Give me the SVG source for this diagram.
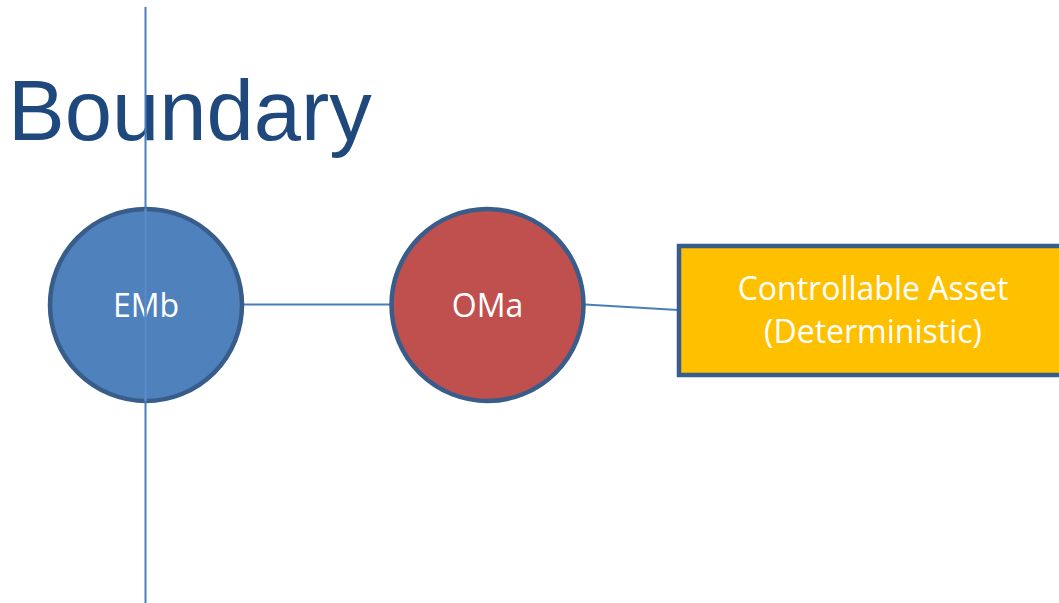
<svg xmlns="http://www.w3.org/2000/svg" width="1059" height="603" viewBox="0 0 1059 603">
<style>
.node{stroke:#385d8a;stroke-width:4.5}
.lbl{font-family:"Open Sans","Noto Sans",sans-serif;font-size:32px;fill:#ffffff;text-anchor:middle}
.conn{stroke:#4a7ebb;stroke-width:1.8;fill:none}
</style>
<rect width="1059" height="603" fill="#ffffff"/>
<text id="title" x="8" y="140" font-family="'Liberation Sans',Arial,sans-serif" font-size="85" fill="#1f497d">Boundary</text>
<g id="connectors">
<line class="conn" x1="243" y1="304.5" x2="390" y2="304.5"/>
<line class="conn" x1="585" y1="304.5" x2="678" y2="310"/>
</g>
<g id="EMb">
<circle class="node" cx="146" cy="305" r="96" fill="#4f81bd"/>
<text class="lbl" x="146" y="317">EMb</text>
</g>
<g id="OMa">
<circle class="node" cx="487.5" cy="305" r="96" fill="#c0504d"/>
<text class="lbl" x="487.5" y="317">OMa</text>
</g>
<g id="asset">
<rect class="node" x="679" y="246" width="392" height="129" fill="#ffc000"/>
<text class="lbl" x="873" y="300">Controllable Asset</text>
<text class="lbl" x="873" y="343">(Deterministic)</text>
</g>
<g id="boundary-line">
<line x1="145.5" y1="7" x2="145.5" y2="603" stroke="#4a7ebb" stroke-width="2"/>
<line x1="145.5" y1="209" x2="145.5" y2="401" stroke="#5b8cc8" stroke-width="2"/>
</g>
</svg>
